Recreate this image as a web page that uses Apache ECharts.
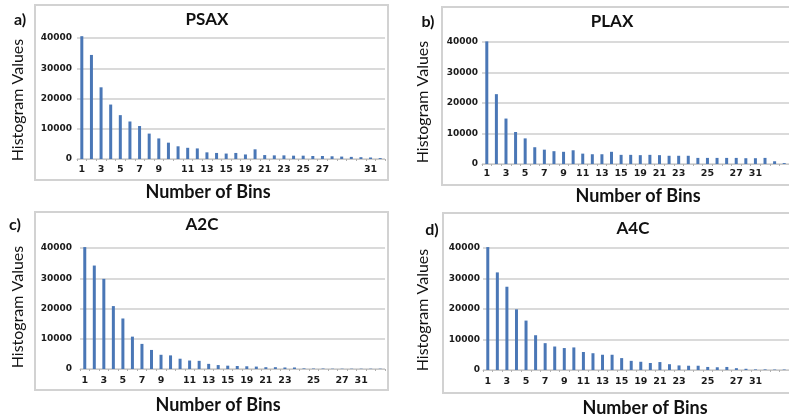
<!DOCTYPE html>
<html><head><meta charset="utf-8">
<script src="https://cdn.jsdelivr.net/npm/echarts@6/dist/echarts.min.js"></script>
<style>html,body{margin:0;padding:0;background:#fff}#c{width:789px;height:416px}</style>
</head><body><div id="c"></div>
<script>
// Bins (categories)
const bins = ['1','2','3','4','5','6','7','8','9','10','11','12','13','14','15','16','17','18','19','20','21','22','23','24','25','26','27','28','29','30','31','32'];
// Tick labels as printed on each reference axis (blank = no label under that bin)
const tickLabelsA = ['1','','3','','5','','7','','9','','','11','','13','','15','','19','','21','','23','','25','','27','','','','','31',''];
const tickLabelsB = ['1','','3','','5','','7','','9','','11','','13','','15','','19','','21','','23','','','25','','','27','','31','','',''];
const tickLabelsC = ['1','','3','','5','','7','','9','','','11','','13','','15','','19','','21','','23','','','25','','','27','','31','',''];
const tickLabelsD = ['1','','3','','5','','7','','9','','11','','13','','15','','19','','21','','23','','','25','','','27','','31','','',''];
const tickLabels = [tickLabelsA, tickLabelsB, tickLabelsC, tickLabelsD];
const yTicks = [0, 10000, 20000, 30000, 40000];

const panelLetters = ['a)', 'b)', 'c)', 'd)'];
const panelTitles = ['PSAX', 'PLAX', 'A2C', 'A4C'];
const yAxisTitle = 'Histogram Values';
const xAxisTitle = 'Number of Bins';

const psax = [40600,34400,23700,18000,14500,12400,10900,8400,6800,5400,4200,3700,3500,2200,2000,1800,2000,1500,3200,1300,1200,1200,1100,1100,1000,1000,900,800,700,600,500,300];
const plax = [40200,22900,14900,10500,8400,5500,4700,4200,4000,4500,3400,3200,3200,4000,3000,3000,2900,3000,2900,2700,2700,2700,2000,2000,2000,2000,2000,1900,1900,2000,900,300];
const a2c  = [40300,34200,29800,20800,16700,10700,8300,6300,4700,4500,3400,2800,2700,1700,1300,1100,1000,900,800,600,600,500,500,200,150,150,100,100,100,100,100,100];
const a4c  = [40300,32000,27300,19900,16200,11400,8800,7700,7200,7400,5900,5500,5000,5000,3900,3000,2700,2300,2600,1900,1500,1400,1400,1000,900,1000,600,400,200,200,150,150];
const seriesValues = [psax, plax, a2c, a4c];

// Layout (pixels) — not data
const layout = [
  {grid:{left:77, top:38, width:308, height:121}, yMargin:5, xMargin:6,
   box:[35,5,353,175], letter:[20,20], title:[207,20], ytitle:[18,100], xtitle:[208,192]},
  {grid:{left:482, top:42, width:307, height:122}, yMargin:4, xMargin:5,
   box:[442,7,360,178], letter:[428,22], title:[612,22], ytitle:[423,102], xtitle:[638,196]},
  {grid:{left:80, top:248, width:305, height:121}, yMargin:8, xMargin:7,
   box:[35,212,353,178], letter:[15,225], title:[202,225], ytitle:[18,307], xtitle:[218,405]},
  {grid:{left:483, top:248, width:306, height:122}, yMargin:3, xMargin:7,
   box:[443,213,360,180], letter:[432,230], title:[633,229], ytitle:[423,310], xtitle:[645,408]}
];

const FONT = 'Lato, "Open Sans", sans-serif';
const grids = [], xAxes = [], yAxes = [], series = [], graphics = [];
layout.forEach((L, i) => {
  grids.push(Object.assign({containLabel:false}, L.grid));
  xAxes.push({
    type:'category', gridIndex:i, data:bins,
    axisLine:{show:true, lineStyle:{color:'#c9c9c9', width:1}},
    axisTick:{show:true, alignWithLabel:false, length:2, lineStyle:{color:'#b0b0b0'}},
    axisLabel:{interval:0, margin:L.xMargin, fontSize:9.5, fontWeight:'bold', color:'#1a1a1a',
      fontFamily:'"DejaVu Sans", sans-serif',
      formatter:(v, idx) => tickLabels[i][idx]}
  });
  yAxes.push({
    type:'value', gridIndex:i, min:yTicks[0], max:yTicks[yTicks.length-1], interval:yTicks[1]-yTicks[0],
    axisLine:{show:false}, axisTick:{show:false},
    splitLine:{show:true, lineStyle:{color:'#dadada', width:2}},
    axisLabel:{margin:L.yMargin, fontSize:9, fontWeight:'bold', color:'#1a1a1a',
      fontFamily:'"DejaVu Sans", sans-serif', formatter:v => String(v)}
  });
  series.push({
    type:'bar', xAxisIndex:i, yAxisIndex:i, data:seriesValues[i], barWidth:3, clip:false,
    itemStyle:{color:'#4a77b6'}, silent:true
  });
  const b = L.box;
  graphics.push({type:'rect', shape:{x:b[0], y:b[1], width:b[2], height:b[3]},
    style:{fill:'none', stroke:'#d2d2d2', lineWidth:2}, z:-10});
  graphics.push({type:'text', x:L.letter[0], y:L.letter[1],
    style:{text:panelLetters[i], font:'bold 16px ' + FONT, fill:'#111',
      align:'center', verticalAlign:'middle', textAlign:'center', textVerticalAlign:'middle'}});
  graphics.push({type:'text', x:L.title[0], y:L.title[1],
    style:{text:panelTitles[i], font:'bold 17px ' + FONT, fill:'#111',
      align:'center', verticalAlign:'middle', textAlign:'center', textVerticalAlign:'middle'}});
  graphics.push({type:'text', x:L.ytitle[0], y:L.ytitle[1], rotation:Math.PI/2,
    style:{text:yAxisTitle, font:'16px ' + FONT, fill:'#111',
      align:'center', verticalAlign:'middle', textAlign:'center', textVerticalAlign:'middle'}});
  graphics.push({type:'text', x:L.xtitle[0], y:L.xtitle[1],
    style:{text:xAxisTitle, font:'bold 18px ' + FONT, fill:'#111',
      align:'center', verticalAlign:'middle', textAlign:'center', textVerticalAlign:'middle'}});
});

const chart = echarts.init(document.getElementById('c'), null, {renderer:'canvas'});
chart.setOption({
  animation:false, backgroundColor:'#ffffff',
  grid:grids, xAxis:xAxes, yAxis:yAxes, series:series, graphic:graphics
});
</script></body></html>
